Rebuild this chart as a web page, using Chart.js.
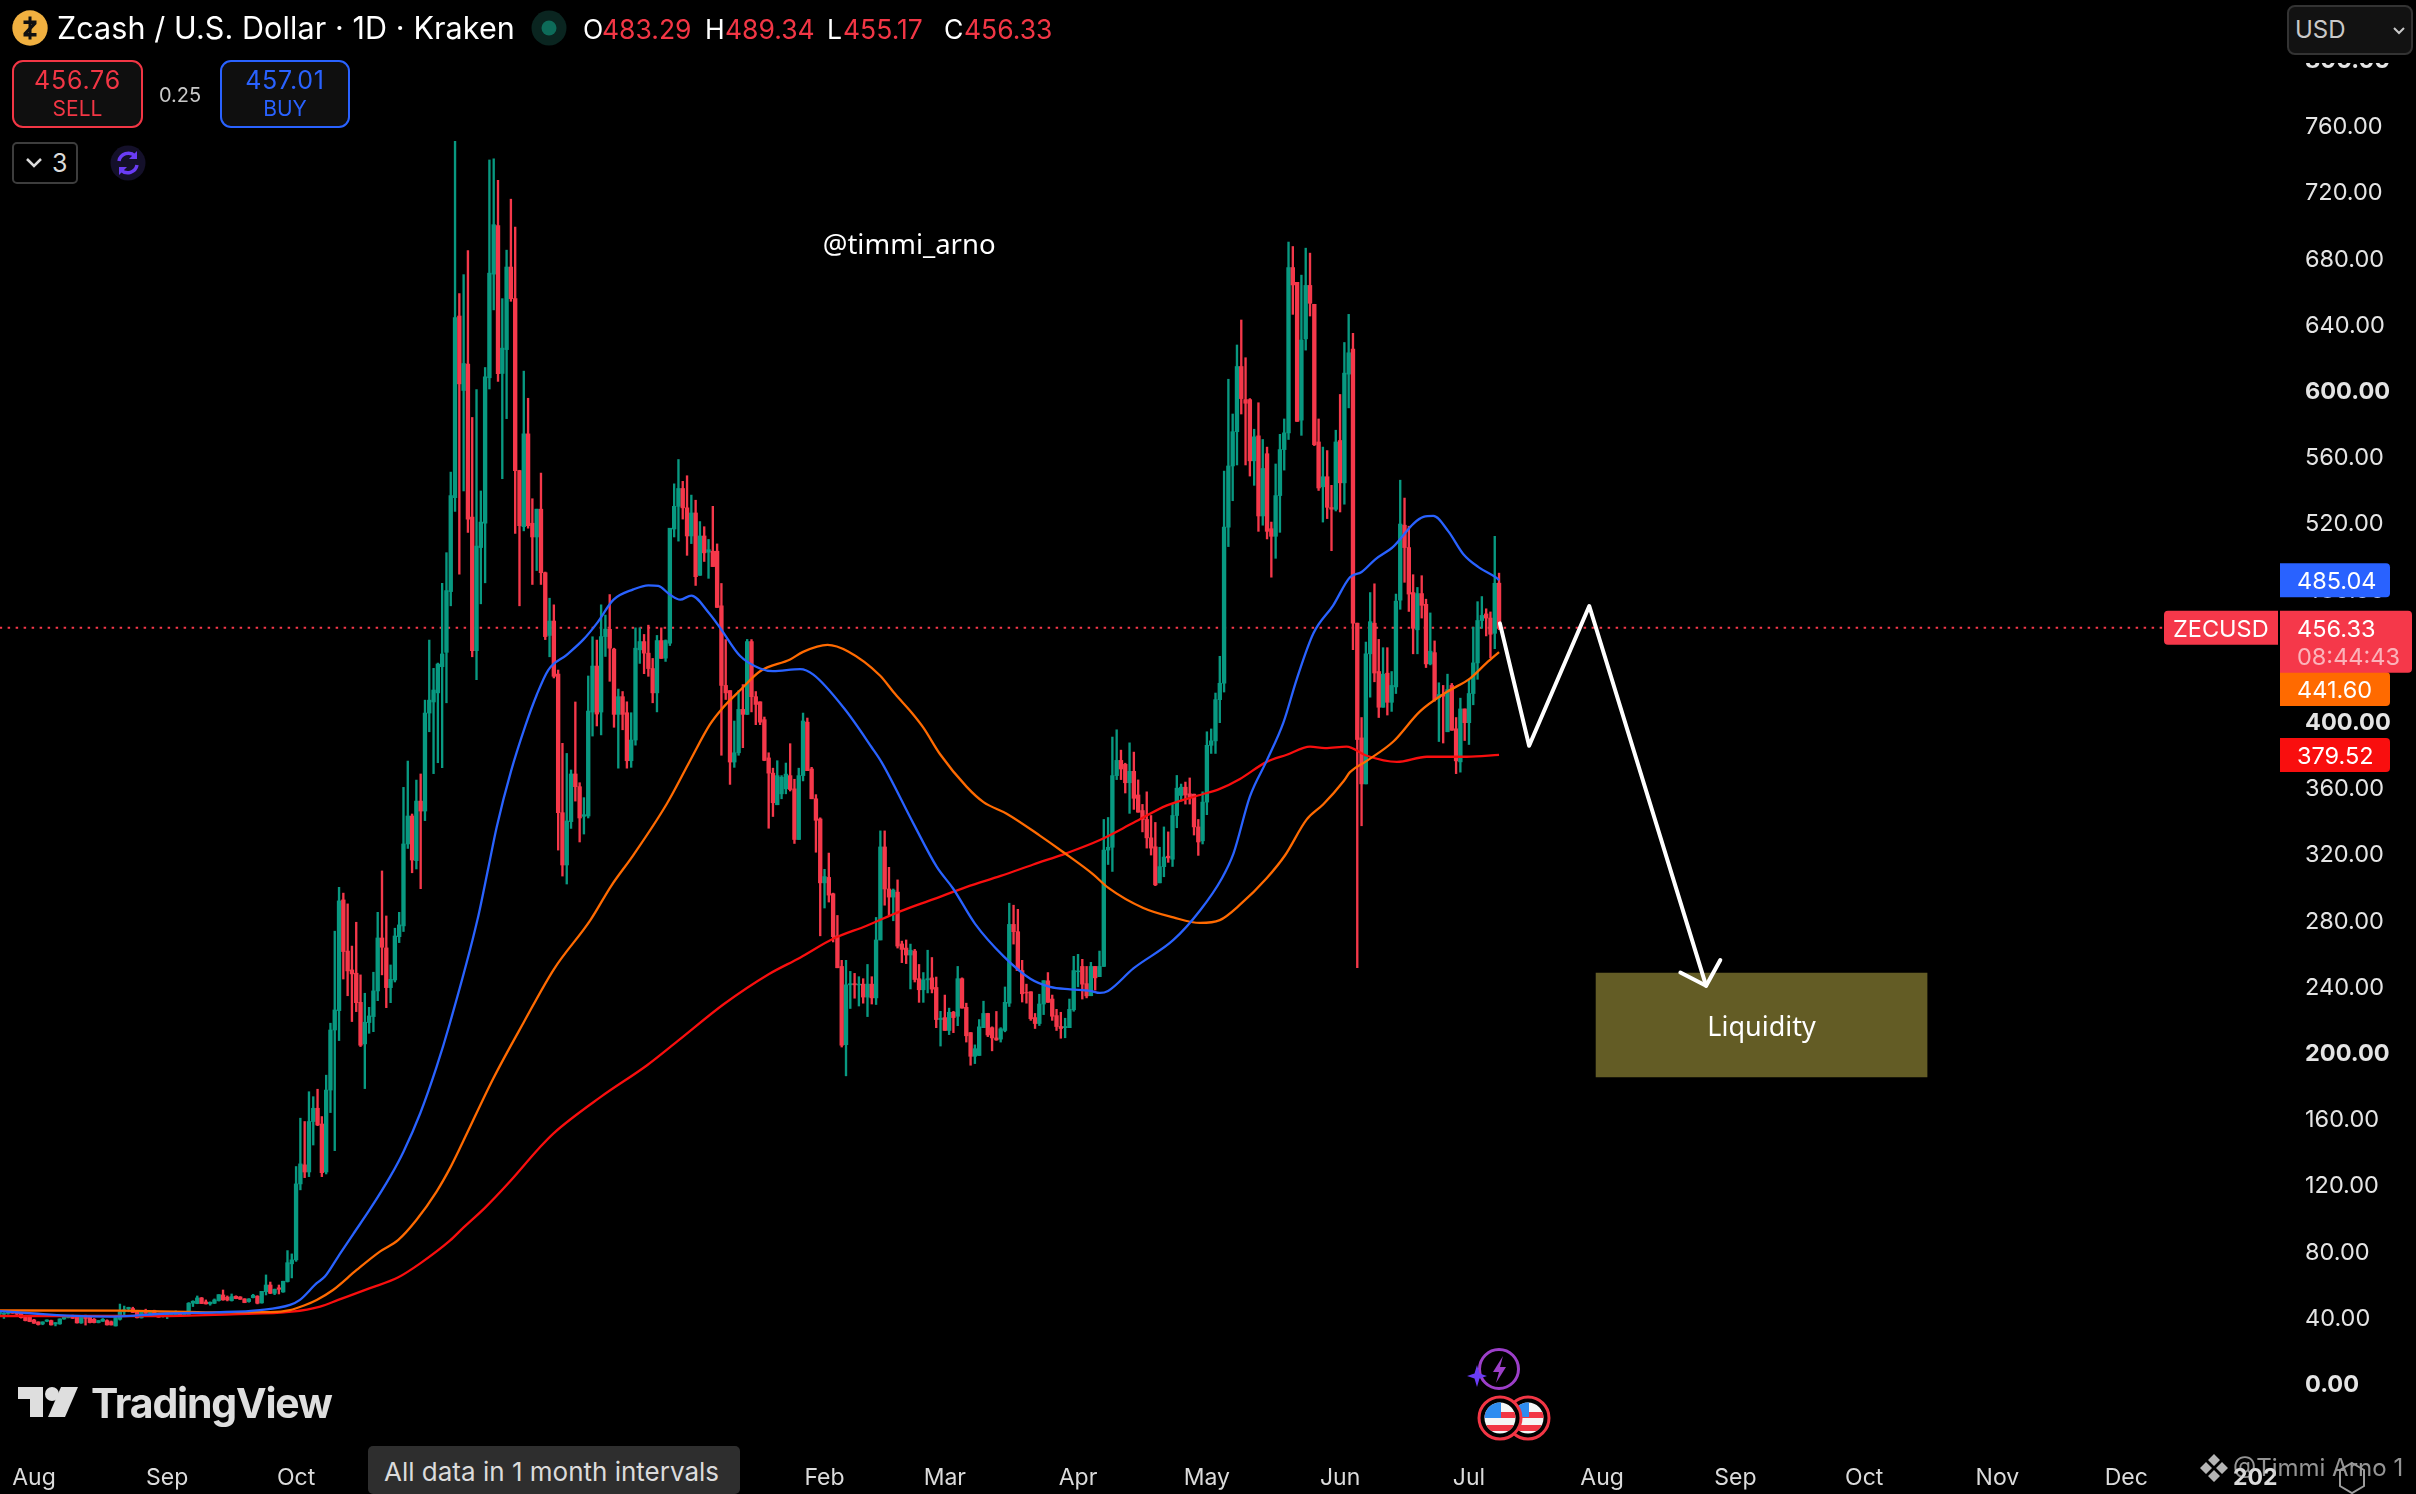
<!DOCTYPE html>
<html><head><meta charset="utf-8">
<style>
html,body{margin:0;padding:0;background:#000;width:2416px;height:1494px;overflow:hidden}
#wrap{position:relative;width:2416px;height:1494px;font-family:Inter,sans-serif;color:#fff}
canvas{position:absolute;left:0;top:0}
.a{position:absolute;white-space:nowrap;line-height:1}
svg{position:absolute;overflow:visible}
.box{position:absolute;box-sizing:border-box;background:#0f0f0f;border-radius:11px}
</style></head><body>
<div id="wrap">
<canvas id="c" width="2416" height="1494"></canvas>

<svg style="left:12px;top:10px" width="36" height="36" viewBox="0 0 36 36"><circle cx="18" cy="18" r="17.7" fill="#f0b040"/><path d="M11.5 10.5h13v3.5l-8.5 9h8.5v3.5h-13v-3.5l8.5-9h-8.500z" fill="#111"/><rect x="16.500" y="6.500" width="3" height="23" fill="#111"/></svg>
<div class="a" style="left:57px;top:13px;font-size:30.500px;letter-spacing:.1px">Zcash / U.S. Dollar · 1D · Kraken</div>
<svg style="left:531px;top:10px" width="36" height="36"><circle cx="18" cy="18" r="17.500" fill="#0a2520"/><circle cx="18" cy="18" r="7.500" fill="#0d6b59"/></svg>
<div class="a" style="left:583px;top:15.500px;font-size:26.500px">O</div><div class="a" style="left:602px;top:15.500px;font-size:26.500px;color:#f23645">483.29</div>
<div class="a" style="left:705px;top:15.500px;font-size:26.500px">H</div><div class="a" style="left:725px;top:15.500px;font-size:26.500px;color:#f23645">489.34</div>
<div class="a" style="left:827px;top:15.500px;font-size:26.500px">L</div><div class="a" style="left:843px;top:15.500px;font-size:26.500px;color:#f23645">455.17</div>
<div class="a" style="left:944px;top:15.500px;font-size:26.500px">C</div><div class="a" style="left:964px;top:15.500px;font-size:26.500px;color:#f23645">456.33</div>

<div class="box" style="left:12px;top:60px;width:131px;height:68px;border:2px solid #f23645"></div>
<div class="a" style="left:12px;width:131px;text-align:center;top:68px;font-size:25px;letter-spacing:.8px;color:#f23645">456.76</div>
<div class="a" style="left:12px;width:131px;text-align:center;top:98px;font-size:21px;color:#f23645">SELL</div>
<div class="a" style="left:159px;top:85px;font-size:20px;color:#c8c8c8">0.25</div>
<div class="box" style="left:220px;top:60px;width:130px;height:68px;border:2px solid #2962ff"></div>
<div class="a" style="left:220px;width:130px;text-align:center;top:68px;font-size:25px;letter-spacing:.8px;color:#2962ff">457.01</div>
<div class="a" style="left:220px;width:130px;text-align:center;top:98px;font-size:21px;color:#2962ff">BUY</div>

<div class="box" style="left:12px;top:142px;width:66px;height:42px;background:#000;border:2px solid #3d3d3d;border-radius:5px"></div>
<svg style="left:25px;top:157px" width="18" height="12"><path d="M2 2l7 7 7-7" fill="none" stroke="#dbdbdb" stroke-width="2.500"/></svg>
<div class="a" style="left:52px;top:151px;font-size:25px;color:#dbdbdb">3</div>
<svg style="left:110px;top:145px" width="36" height="36" viewBox="0 0 36 36"><circle cx="18" cy="18" r="17.500" fill="#14102a"/><path d="M9 16a9.500 9.500 0 0 1 16-5M27 20a9.500 9.500 0 0 1-16 5" fill="none" stroke="#6a3cf5" stroke-width="3.500"/><path d="M27 6v8h-8zM9 30v-8h8z" fill="#6a3cf5"/></svg>

<div class="a" style="left:2285px;top:50px;width:130px;height:13px;background:#000"></div>
<div class="box" style="left:2287px;top:5px;width:126px;height:50px;background:#121212;border:2px solid #333;border-radius:8px"></div>
<div class="a" style="left:2295px;top:18px;font-size:24px;color:#c9c9c9">USD</div>
<svg style="left:2392px;top:26px" width="14" height="10"><path d="M2 2l5 5 5-5" fill="none" stroke="#c9c9c9" stroke-width="2"/></svg>

<svg style="left:18px;top:1387px" width="60" height="30" viewBox="0 0 60 30"><path d="M0 0H25V30H12V12H0z" fill="#dedede"/><circle cx="34" cy="7" r="7" fill="#dedede"/><path d="M43 0H60L47 30H30z" fill="#dedede"/></svg>
<div class="a" style="left:91px;top:1383px;font-size:41px;font-weight:700;letter-spacing:-1.200px;color:#dedede">TradingView</div>

<div class="a" style="left:368px;top:1446px;width:372px;height:48px;background:#2e2e2e;border-radius:5px"></div>
<div class="a" style="left:384px;top:1459px;font-size:26px;color:#dbdbdb">All data in 1 month intervals</div>

<svg style="left:1465px;top:1345px" width="60" height="48" viewBox="0 0 60 48"><circle cx="34" cy="24" r="19.500" fill="#000" stroke="#9c3fc9" stroke-width="3"/><path d="M38 11L28 27h6l-3 11 10-16h-6z" fill="#9c3fc9"/><path d="M12 20l2.500 8.500L22 31l-7.500 2.500L12 42l-2.500-8.500L2 31l7.500-2.500z" fill="#6a3cf5"/></svg>
<svg style="left:1476px;top:1394px" width="80" height="48" viewBox="0 0 80 48">
<defs><clipPath id="f2"><circle cx="52" cy="24" r="15.500"/></clipPath><clipPath id="f1"><circle cx="24" cy="24" r="15.500"/></clipPath></defs>
<circle cx="52" cy="24" r="21" fill="#000" stroke="#f23645" stroke-width="3"/>
<g clip-path="url(#f2)"><rect x="30" y="5" width="44" height="40" fill="#f5f5f5"/><rect x="30" y="18" width="44" height="6" fill="#f23645"/><rect x="30" y="31" width="44" height="6" fill="#f23645"/><rect x="30" y="5" width="23" height="18" fill="#2e8cf0"/></g>
<circle cx="24" cy="24" r="21" fill="#000" stroke="#f23645" stroke-width="3"/>
<g clip-path="url(#f1)"><rect x="2" y="5" width="44" height="40" fill="#f5f5f5"/><rect x="2" y="18" width="44" height="6" fill="#f23645"/><rect x="2" y="31" width="44" height="6" fill="#f23645"/><rect x="2" y="5" width="23" height="19" fill="#2e8cf0"/></g>
</svg>

<svg style="left:2200px;top:1454px" width="34" height="34" viewBox="0 0 34 34"><path d="M14 0l6 6-6 6-6-6zM6 8l6 6-6 6-6-6zM22 8l6 6-6 6-6-6zM14 16l6 6-6 6-6-6z" fill="#b5b5b5"/></svg>
<div class="a" style="left:2233px;top:1456px;font-size:24px;color:rgba(205,205,205,.72)">@Timmi Arno 1</div>
<svg style="left:2338px;top:1462px" width="28" height="32" viewBox="0 0 28 32"><path d="M14 1l12 7v16l-12 7-12-7V8z" fill="none" stroke="#9c9c9c" stroke-width="2"/></svg>
</div>

<script src="https://cdn.jsdelivr.net/npm/chart.js@4/dist/chart.umd.min.js"></script>
<script>
// Daily candles: [open, high, low, close]
const candlesLateJul = [[41.7,43,41,42.9],[41.5,42.5,39,42.2],[42,43.2,41.5,43],[43,43.5,42,42.2],[43,43.4,41,41.6],[42.1,42.6,39.2,39.5],[40.5,41,37.5,37.7],[39.7,40,37,37.1]];
const candlesAug = [[38.1,38.5,36,36.1],[36.9,37,35,35.3],[35.7,37,35.2,36.9],[37.3,38.2,37,38.1],[37.7,38,35,35.1],[35.7,36.5,34.5,36.5],[35.7,38.8,35.5,38.7],[38.7,39.8,38.5,39.7],[39.5,40.8,39.3,40.7],[40.5,41,39,39.1],[40.1,40.8,36.2,36.3],[36.3,40.2,36,40.1],[40.5,41,35,39],[40.1,40.8,36.3,36.5],[38.5,39,36.3,36.5],[36.5,37.8,36.3,37.7],[37.3,39,37.2,38.5],[37.7,38.2,35,35.1],[37,37.5,35,35.1],[34.5,40,34.4,39.5],[38.5,47.7,38,43.1],[43,46.5,41,44.2],[44.9,45.8,43,45.7],[45,45.8,42.5,42.6],[43.3,43.5,39.3,39.4],[39.4,43.5,39.2,43.3],[43.7,44.6,42,42.1],[42,43.2,41.8,43.1],[43.7,44,40.1,40.1],[40.9,41,39.7,39.8],[40.1,41.3,39.8,41.3]];
const candlesSep = [[40.5,41.8,38.9,41.7],[41.3,42.2,41,42.1],[41,43.6,40.8,42.5],[41.7,41.9,40.8,41],[41,42.3,40.8,42.1],[40.7,48.6,40.6,48.2],[48.2,49.7,46.2,49.4],[48,52.6,47.9,51.4],[51.4,51.7,48,48],[49,50.2,47.7,47.8],[47.8,49,47,48.8],[48.2,50.8,48,50.2],[49.8,53.4,49.5,53.4],[53.2,56.2,50,50.2],[51.8,52.6,49.6,50.2],[49.8,53.8,49.5,52.2],[52.4,52.7,50.9,51],[52,52.2,50.5,50.6],[50.8,51,48.5,48.6],[49.2,51,48.8,50.8],[51.6,53.6,51.4,53],[52.4,52.8,47.8,48.2],[48.4,55.4,48.2,55.4],[55.2,65.3,53.2,59.2],[59.2,61,54,54.2],[54.2,56.8,53.4,56.6],[57.5,59.2,53.8,56.6],[55,61.5,54.8,61.5],[61.3,80,61,72.7],[72,78,63.5,74.4]];
const candlesOct = [[74.4,130.8,73.5,120.3],[120.3,160,116.7,132.4],[131.8,158,124.1,127.5],[127.5,176,124.7,158],[158,173,143.8,166],[166,177.5,155.5,155.9],[156.5,161,124.7,127.1],[127.5,186,126.3,177],[177,217.4,163.4,213.3],[213.3,273,140.4,225.4],[225,299.5,206.9,291.3],[291.9,296,244.1,260.7],[261,289.5,234,249],[249.6,264,218.4,247.2],[247.6,278.4,224.4,229.8],[230,246.6,203.3,204.1],[204.9,235.5,177.9,218],[217.8,227,211.3,221.8],[221.4,248.2,212.3,236.9],[236.9,284.4,231,268.9],[268.9,309.4,246.6,263.3],[262.9,282.2,226.8,238.9],[238.9,252.6,229.8,243.9],[243.5,274.8,242.3,270.1],[269.7,284.4,266.1,276.8],[276.2,359.9,272.8,325.7],[325.7,375.8,323,342.6],[342.6,343.8,308.3,316],[315.6,364.3,310.6,351.6],[351.6,368,298.7,345.6],[345.6,412.6,339.8,404.8]];
const candlesNov = [[404.8,448.9,393.5,412.6],[411.5,431.8,368.2,418.7],[417,435,374.8,434.4],[432.8,483.2,371.8,440.5],[441.5,501.7,411,478.8],[478.2,550.4,469.6,536.2],[535,750.2,526.6,643.8],[644.7,658.3,488.7,603.7],[599.7,669.7,539,616],[615.7,684.2,514,522],[523.2,583.4,438.8,442.5],[442.5,600.3,425,505.7],[504.8,539,470.8,520.2],[519.5,613.6,483.5,608],[607.4,739,600.6,670.6],[670,739.7,648.4,699.9],[699.3,726.7,605.2,609.9],[610,655.2,546.4,625.3],[624.4,684.5,582.7,674.3],[674.3,715.3,653.6,655.2],[655.2,698.4,513.4,551.3],[551.3,551.5,469.6,518],[517.4,611.4,514.9,573.5],[573.5,595,516.5,518],[519.5,534.3,482.5,511.2],[511.2,528,490.9,528],[528,549.8,482.5,489.6],[489.6,490,449.2,451],[451.7,474.2,438.8,460.4],[460.4,470.2,426,427]];
const candlesDec = [[428.4,430.8,322,344.6],[344.6,386.5,306.3,313],[313,380.4,301.5,339.6],[339.2,370.4,335.1,368],[368,411.5,351.6,360.3],[360.3,362.7,326.9,341.4],[342.4,353.7,331.7,343.4],[342.6,427.2,341.4,406],[405.4,450.9,390.9,433.2],[433.2,448.9,397,404.2],[405.4,470.2,391.6,451],[451,464,439,455.5],[455.4,476.4,424,444],[443.4,444,396.2,404],[404,419.3,371.5,414.7],[414.7,417.8,394.7,404],[405,411.6,371.5,376],[376,405,372,388.5],[388.5,456.3,385.4,444],[443,456.3,434.8,448],[448,452.3,428.6,441],[441,457.9,427,431.7],[431.7,437.8,411,417],[417,451.7,405.5,448.6],[448.6,456.3,437.8,437.8],[438,449,436,448.6],[447,516,445.6,516.5],[516,543.3,511.2,529.7],[529.7,558,508.7,540.5],[540.5,544.8,522,528.8],[528.8,548.2,500.1,511.8]];
const candlesJan = [[511.8,536.5,507.2,525.7],[525.7,533.4,481.9,487.2],[488,520.5,488,511.8],[511.8,517.4,496.4,501.6],[502,509.7,486.2,503.5],[502.6,529.7,493.3,493.3],[502.6,507,468.6,468.6],[469.6,483.1,379.3,421.5],[421.5,449.2,413,417],[418.4,418.4,361.7,375.2],[375.2,400,372,380.8],[380.8,418.4,379.3,407],[407,422,383.9,404],[404,449.3,403.9,448],[448,449.2,405.5,414.7],[414.7,417.8,397.8,410],[411.6,411.6,397.8,399.3],[400.8,402.4,376,376.2],[377.7,380.8,335.2,368.5],[368.5,371.5,342.3,350.6],[349.4,376,349.4,367],[356,367,353,366],[359,374.6,356,367.9],[367,386.3,357.7,358.6],[359,364.8,326,328.4],[328.4,371.5,328.4,367],[367,404.8,363.8,400],[399.3,401.8,370,370],[371,372,353,353],[353,355.5,320.7,340],[340.8,341.5,270.2,302.2]];
const candlesFeb = [[302.2,310.4,287,306],[305.5,320.2,290.6,294.8],[295.6,296,266.5,269.7],[270.2,282.5,250.9,250.9],[251.7,255.4,203,204.1],[204.4,255.4,185.6,240.6],[240.6,248.7,226.3,241.3],[241.3,247.5,232.5,240.6],[240.5,245.5,227.8,241],[241,244.3,229.5,233.2],[233.2,252.9,221.4,241],[241,245.5,229,232.7],[232.7,281.3,228.7,267.7],[267.7,333.6,267.7,323.9],[323.9,333.6,288.7,298.5],[298.5,311.6,282.5,293.6],[293.6,298.5,279.3,297.8],[296.6,304,262.8,264],[265.3,267,254,262],[262.8,267.7,253.4,258.6],[258.6,265.2,238.1,261.5],[261,262,242.3,243.8],[244.3,252.9,230,237.6],[237.6,248,230,243.6],[243.6,261.5,235.7,244.3],[244.8,257.1,235.7,238],[239,245.3,214.7,219.6],[219.6,224.6,203.6,220.4]];
const candlesMar = [[220.8,234.4,213,213],[213,226.5,210.5,224],[224,224.6,211.7,220.8],[221.6,251.7,215.9,244.3],[244.3,244.8,226.5,226.5],[227,229.5,206,209.8],[211.7,211.8,192,197.4],[197.4,204.3,193,202],[197.9,219.6,197.9,215.2],[214.7,230.7,214.7,223.3],[223.3,223.4,209.3,210.3],[214.7,215.2,200.7,208.5],[208.5,224.5,207,207.3],[207.8,214.7,206,214],[213,239.3,212.2,230],[229.5,289.9,227.5,277.1],[277.1,288.7,265.2,272.7],[272.7,286.2,249.2,249.2],[249.2,255.4,230.2,235.2],[236,241,229.5,235.7],[236.4,236.4,219.1,220.1],[220.8,223.3,214.2,217.2],[217.2,234.9,216,229],[229,243.1,222.6,243.1],[243,248,230,230],[232,234.4,219.1,221.6],[222,225.8,213,215.4],[215.4,224,208.3,214.2],[214.7,220.4,208.6,215.4],[214.7,232,214.7,225.8],[225.5,257.8,224.6,249.2]];
const candlesApr = [[248.5,259,239.4,249],[251.7,256,232,241],[241.3,251.7,232.7,233.9],[234,254.2,234,251.7],[251.7,251.7,237.4,244.8],[245.5,261,245.5,251.7],[251.7,340.5,251.7,322],[322,341.7,313.3,323.7],[323.7,390.3,309.1,367],[367,394.7,364.6,376.2],[376.2,382.4,364.6,371],[373.8,374.5,356.5,362.7],[362.7,386.8,344.2,369.6],[369.6,381.2,346.6,353.3],[355.3,364.4,344.9,344.9],[345.9,349.6,333,340.5],[340.5,357.2,323.2,329.4],[329.4,342.9,319,323.2],[324,338.7,300.5,301],[302.2,323.7,302.2,312],[312,336,305.9,317.8],[318.3,333,314.6,317.3],[316.5,349.6,312.1,342.9],[342.9,367.1,335.5,359.4],[355,361.9,351.6,360],[360,363.1,349.8,355.3],[356,365.6,349.8,354],[355.8,355.8,331.1,336],[336,340.5,318.8,326.9],[327.6,357.2,325.7,351]];
const candlesMay = [[351,393.5,343.4,385.3],[385.3,395.2,380.4,388],[388,416.9,380.4,412.9],[412.9,439.1,399,422.8],[422.8,551,417.5,517.1],[517.1,606.5,505.4,554.1],[554.1,585.5,533.1,574.8],[574.8,627.2,554.7,614.2],[614.2,642.3,585.5,594.8],[594.2,619.5,554.7,592],[594.2,594.8,548,557.2],[557.2,576.3,542.4,571.7],[572.3,592.3,514.6,523.9],[523.9,570.1,518.3,552.6],[561.5,565.5,510,514.6],[516.2,520.2,486.9,511.6],[511.6,555.3,498.3,536.2],[536.2,573.2,514,564],[564,582.5,551.6,574.1],[574.1,689.4,570.1,674],[674,686.7,645.7,663.5],[665,665,581,581],[581.8,669.4,572.6,630.2],[630.9,685.7,624.1,663.2],[663.2,682.7,644.7,652.4],[651.8,651.8,566.4,567],[568.6,582.5,539.3,540.8],[541.5,565.5,520.2,547.6],[547.6,563.4,522.3,529.1],[529,542.4,502.9,528],[527.9,575.7,526.9,568.6]];
const candlesJun = [[569.5,597.3,526.3,543.9],[543.9,628.7,531,610.2],[609.6,645.7,589.2,622.5],[624.7,634.3,443.1,459.1],[459.1,459.1,251,388.8],[389.8,402.1,336.7,362],[362,447.7,362,440.6],[440.6,477.6,414.4,460],[459.1,482.9,423.7,429],[429.9,449.3,402.1,408.3],[408.3,444.3,408.3,428.3],[428.9,444.3,403.6,411.3],[411.3,429.9,405.8,421.5],[420.6,476.7,416.6,472.4],[473,545.5,467.5,519],[518.3,534.7,483.8,504.8],[504.8,517.7,466.2,476.7],[477.6,488.4,440.6,456],[455.1,480.7,440.6,477],[477,487.8,462.2,469.9],[470.5,473.6,432.3,434.5],[434.5,465.3,433.9,442.2],[441.3,448.4,412,412.9],[414,423.1,387.6,416],[416,421.5,386.7,415],[393.5,428.3,393.5,419],[421.5,422.7,394.4,394.4],[395.3,402.1,368.2,375.9],[375.3,413.8,369.1,407.3],[407.3,407.3,388.2,399]];
const candlesJul = [[399,425.2,385.8,416.6],[416.6,456.7,409.8,435.1],[435.1,472.1,425.2,460.7],[460.7,475.2,456,463.8],[464.7,467.8,451.4,462.2],[462.2,465.9,438.2,452.4],[453,511.6,443.7,483.2],[483.29,489.34,455.17,456.33]];
const firstCandleDay = -8;

// Moving averages: [day, price]
const maBlue = [[-8,43.5],[0,42],[7.6,40.7],[18.5,40.1],[30.9,42],[42.5,42.7],[52.6,44.1],[59.6,47.2],[61.9,50.2],[65.8,60.3],[67.7,64.3],[70.8,76.4],[74.3,90],[78.2,105],[82.9,124.7],[86,139.8],[89.9,163],[93.7,191],[96.8,217.4],[103.2,279.7],[105.8,312],[107.7,336],[111,369.4],[114.3,396.6],[117,415.7],[119.7,430.8],[124,440],[127.9,449.3],[131,459],[134.9,473.3],[139.5,479.5],[143,482],[145.3,481.6],[148,476.4],[150.4,473.3],[153,475.8],[157,465.6],[159.7,456.3],[164.3,439.4],[169,431.7],[172,430.1],[178.3,431.3],[181.4,428],[188.6,407.5],[195,384],[197.3,375],[204.7,338],[210.1,312],[214,298.5],[219,277.6],[225.7,257.8],[231.9,244.3],[236.5,239.4],[241.2,237.9],[245.8,237],[248.1,235.7],[250,236.9],[255.9,250.5],[265.2,267.7],[271.4,285.5],[276.5,305],[279.2,320],[283,354.3],[286.9,375.9],[290.8,399],[293.9,425.2],[297.8,453],[302.4,469.9],[306.3,486.9],[309,490],[312.2,497.7],[316.4,505.4],[321.1,519.3],[323.4,523.3],[325.7,523.9],[329.2,514.6],[332.7,500.8],[336.2,493],[340.5,486.3],[341,485.04]];
const maOrange = [[-8,43.8],[20,43.7],[40,42.7],[55,42.8],[59.6,44],[63,47],[65.8,50.2],[69.6,56.2],[75.1,68.3],[80.5,79.4],[84.8,86.5],[89,98.5],[93.7,115.7],[96.8,129.7],[99.7,145],[106.9,184],[114,218],[121,250],[129.5,279.7],[134.4,300.6],[139.5,319],[147.3,350],[152.7,376],[157.3,397.8],[160,407],[164.3,418.4],[169,430.1],[176,437.2],[179,441.8],[184.7,446],[189.5,442],[196.9,427.5],[200.4,416.4],[204.3,405],[207,396],[210.9,379.9],[217.1,360.2],[221,351],[226.4,344],[234.2,330.6],[239.6,320.7],[246.6,307.2],[250,299.3],[258.2,287],[265.2,281.3],[271.4,278],[276,279.7],[280.7,289],[286.9,305],[291.2,318.9],[296.2,340.4],[300.1,349.7],[304.8,363.6],[306.3,369.1],[310.2,375.9],[316.4,387.6],[322.6,405.8],[328.8,417.5],[334.3,425.8],[338.1,435.1],[341,441.6]];
const maRed = [[-8,40.5],[30,40.5],[46,41.5],[60,43.1],[66.6,46.2],[70.8,50.2],[78.2,57.3],[84.8,63.9],[89.9,72.3],[96.8,86],[100,94],[105,106],[110.5,121],[117.6,142],[121,151],[132,173],[142.7,192],[150,207],[160.6,229],[171,247],[178.3,257],[186,268.4],[193.8,276.3],[201.6,285],[209.4,292.4],[217.1,299.8],[225,306.4],[232.6,313.3],[240.4,320.2],[248.1,328.1],[255.9,338.5],[263.7,349],[271.4,355.3],[276,359],[280.7,365],[286.9,375.3],[291.6,379.6],[297,384.5],[300.5,383.6],[305.5,384.5],[310.2,379],[317.2,375.3],[324.2,378.4],[333.5,378.4],[341,379.52]];

// Drawn projection and the marked zone
const pathDays = [341.2,348,362,389.2];
const pathPrices = [459,385,469.5,240];
const arrowDays = [383.2,389.2,392.5];
const arrowPrices = [248,240,255.6];
const zoneDay = 402.1;
const zoneLow = 185;
const zoneHigh = 247.7;
const lastPrice = 456.33;
const lastLineEndDay = 495.8;

// Axes
const priceTicks = [0,40,80,120,160,200,240,280,320,360,400,440,480,520,560,600,640,680,720,760,800];
const boldPrices = [0,200,400,600,800];
const monthDays = [0,31,61,184,212,243,273,304,334,365,396,426,457,487,517];
const monthLabels = ['Aug','Sep','Oct','Feb','Mar','Apr','May','Jun','Jul','Aug','Sep','Oct','Nov','Dec','202'];

// Last-value tags
const tagLabels = ['485.04','441.60','379.52'];
const tagAnchors = [485.04,419.3,379.52];
const tagColors = ['#2962ff','#ff6a00','#f90e0e'];

const GREEN='#089981', RED='#f5384a';
const candles = [...candlesLateJul,...candlesAug,...candlesSep,...candlesOct,...candlesNov,...candlesDec,...candlesJan,...candlesFeb,...candlesMar,...candlesApr,...candlesMay,...candlesJun,...candlesJul];
const pairs = a => a.map(p=>({x:p[0],y:p[1]}));
const zip = (xs,ys) => xs.map((x,i)=>({x,y:ys[i]}));
const wicks = candles.map((c,i)=>({x:firstCandleDay+i,y:[c[2],c[1]]}));
const bodies = candles.map((c,i)=>({x:firstCandleDay+i,y:[Math.min(c[0],c[3]),Math.max(c[0],c[3])]}));
const colours = candles.map(c=>c[3]>=c[0]?GREEN:RED);

function rr(ctx,x,y,w,h,tl,tr,br,bl,fill){ctx.beginPath();ctx.roundRect(x,y,w,h,[tl,tr,br,bl]);ctx.fillStyle=fill;ctx.fill();}
const overlay = {id:'overlay',
 beforeDraw(chart){
  // nudge the price labels to sit on the reference's optical centre
  const s=chart.scales.y;
  if(!s.$nudged){s.getLabelItems(chart.chartArea).forEach(it=>{it.options.translation[1]+=2;});s.$nudged=true;}
 },
 afterDraw(chart){
  const {ctx,scales:{x,y}}=chart; ctx.save(); ctx.textBaseline='middle'; ctx.textAlign='left';
  ctx.fillStyle='#fff'; ctx.textAlign='center';
  ctx.font='27px "Noto Sans"'; ctx.fillText('Liquidity',x.getPixelForValue(zoneDay),y.getPixelForValue((zoneLow+zoneHigh)/2)+3);
  ctx.font='27.500px "Noto Sans"'; ctx.fillText('@timmi_arno',x.getPixelForValue(203.7),y.getPixelForValue(688.2)+2);
  ctx.textAlign='left';
  ctx.font='23.500px Inter';
  tagLabels.forEach((t,i)=>{const c=y.getPixelForValue(tagAnchors[i]);
    rr(ctx,2280,c-17,110,34,0,4,4,0,tagColors[i]);ctx.fillStyle='#fff';ctx.fillText(t,2297,c+2);});
  const cy=y.getPixelForValue(lastPrice);
  rr(ctx,2164,cy-17,114,34,4,0,0,4,RED);ctx.fillStyle='#fff';ctx.fillText('ZECUSD',2173,cy+2);
  rr(ctx,2280,cy-17,132,62,0,4,4,0,RED);ctx.fillStyle='#fff';ctx.fillText('456.33',2297,cy+2);
  ctx.fillStyle='rgba(255,255,255,.62)';ctx.fillText('08:44:43',2297,cy+30);
  ctx.restore();
}};

new Chart(document.getElementById('c'),{
  data:{datasets:[
    {type:'bar',data:[{x:zoneDay,y:[zoneLow,zoneHigh]}],backgroundColor:'#635c25',barThickness:331,grouped:false,order:9},
    {type:'line',data:[{x:-8,y:lastPrice},{x:lastLineEndDay,y:lastPrice}],borderColor:RED,borderWidth:2,borderDash:[2.500,5.500],pointRadius:0,order:8},
    {type:'bar',data:wicks,backgroundColor:colours,barThickness:1.700,grouped:false,order:7},
    {type:'bar',data:bodies,backgroundColor:colours,barThickness:3.700,grouped:false,order:6},
    {type:'line',data:pairs(maRed),borderColor:'#f90e0e',borderWidth:2.300,pointRadius:0,cubicInterpolationMode:'monotone',order:5},
    {type:'line',data:pairs(maOrange),borderColor:'#ff6a00',borderWidth:2.300,pointRadius:0,cubicInterpolationMode:'monotone',order:4},
    {type:'line',data:pairs(maBlue),borderColor:'#2962ff',borderWidth:2.300,pointRadius:0,cubicInterpolationMode:'monotone',order:3},
    {type:'line',data:zip(pathDays,pathPrices),borderColor:'#fff',borderWidth:4,pointRadius:0,borderJoinStyle:'round',borderCapStyle:'round',order:2},
    {type:'line',data:zip(arrowDays,arrowPrices),borderColor:'#fff',borderWidth:4,pointRadius:0,borderJoinStyle:'round',borderCapStyle:'round',order:1}
  ]},
  options:{
    responsive:false,devicePixelRatio:1,animation:false,
    layout:{padding:0},
    plugins:{legend:{display:false},tooltip:{enabled:false}},
    scales:{
      x:{type:'linear',min:-7.914,max:525.1,offset:false,grid:{display:false},border:{display:false},
        afterBuildTicks:s=>{s.ticks=monthDays.map(v=>({value:v}));},
        afterFit:s=>{s.height=49;s.paddingLeft=0;s.paddingRight=0;},
        ticks:{autoSkip:false,maxRotation:0,minRotation:0,padding:11,color:'#dbdbdb',
          font:c=>({family:'Inter',size:23,weight:monthLabels[monthDays.indexOf(c.tick&&c.tick.value)]==='202'?'700':'400'}),
          callback:v=>monthLabels[monthDays.indexOf(v)]}},
      y:{type:'linear',position:'right',min:-37.46,max:835.65,grid:{display:false},border:{display:false},
        afterBuildTicks:s=>{s.ticks=priceTicks.map(v=>({value:v}));},
        afterFit:s=>{s.width=126;s.paddingTop=0;s.paddingBottom=0;},
        ticks:{padding:7,color:'#e4e4e4',autoSkip:false,
          font:c=>({family:'Inter',size:23.500,weight:boldPrices.includes(c.tick&&c.tick.value)?'700':'400'}),
          callback:v=>v.toFixed(2)}}
    }
  },
  plugins:[overlay]
});
</script>
</body></html>
